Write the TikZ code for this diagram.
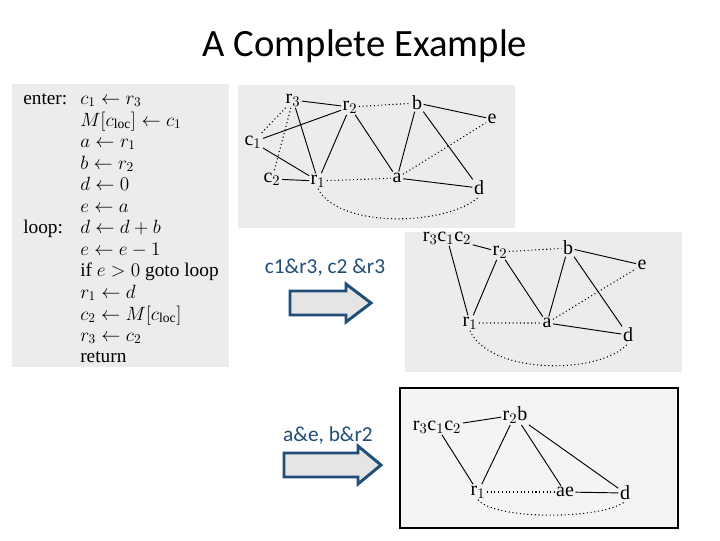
\documentclass[tikz,border=0pt]{standalone}
\usepackage{fontspec}
\usepackage{amsmath}
\setmainfont{Liberation Serif}
\newfontfamily\slidefont{Carlito}
\definecolor{slideblue}{RGB}{31,78,121}
\definecolor{scangray}{RGB}{236,236,236}
\tikzset{
  vx/.style={inner sep=1pt, font=\fontsize{15}{15}\selectfont},
  solid edge/.style={draw, line width=0.7pt},
  dot edge/.style={draw, dotted, line width=0.8pt},
  panel/.style={fill=scangray, draw=none},
  codeline/.style={anchor=base west, inner sep=0pt, font=\fontsize{14.5}{15}\selectfont},
  fatarrow/.style={draw=slideblue, fill=gray!20, line width=2.2pt, line join=miter},
  arrowlabel/.style={text=slideblue, font=\slidefont\fontsize{16}{16}\selectfont}
}
\begin{document}
\begin{tikzpicture}[x=0.75pt,y=-0.75pt]
    \useasboundingbox (0,0) rectangle (720,540);
    \fill[white] (0,0) rectangle (720,540);

    % title
    \node[font=\slidefont\fontsize{29}{29}\selectfont] (title) at (365,46) {A Complete Example};

    % code panel
    \fill[panel] (12,84) rectangle (229,367);
    \node[codeline] (enter) at (23,104) {enter:};
    \node[codeline] (loop) at (23,233) {loop:};
    \node[codeline] (l1) at (80,104) {$c_1 \leftarrow r_3$};
    \node[codeline] (l2) at (80,126) {$M[c_{\mathrm{loc}}] \leftarrow c_1$};
    \node[codeline] (l3) at (80,147) {$a \leftarrow r_1$};
    \node[codeline] (l4) at (80,169) {$b \leftarrow r_2$};
    \node[codeline] (l5) at (80,190) {$d \leftarrow 0$};
    \node[codeline] (l6) at (80,212) {$e \leftarrow a$};
    \node[codeline] (l7) at (80,233) {$d \leftarrow d+b$};
    \node[codeline] (l8) at (80,255) {$e \leftarrow e-1$};
    \node[codeline] (l9) at (80,276) {if $e>0$ goto loop};
    \node[codeline] (l10) at (80,298) {$r_1 \leftarrow d$};
    \node[codeline] (l11) at (80,320) {$c_2 \leftarrow M[c_{\mathrm{loc}}]$};
    \node[codeline] (l12) at (80,341) {$r_3 \leftarrow c_2$};
    \node[codeline] (l13) at (80,362) {return};

    % first graph
    \fill[panel] (238,85) rectangle (515,228);
    \node[vx] (ar3) at (293,100) {r$_3$};
    \node[vx] (ar2) at (350,107) {r$_2$};
    \node[vx] (ab) at (417,103) {b};
    \node[vx] (ae) at (492,119) {e};
    \node[vx] (ac1) at (253,142) {c$_1$};
    \node[vx] (ac2) at (272,179) {c$_2$};
    \node[vx] (ar1) at (318,181) {r$_1$};
    \node[vx] (aa) at (397,178) {a};
    \node[vx] (ad) at (479,188) {d};
    \path[solid edge] (ar3) -- (ar2) (ar3) -- (ar1) (ac1) -- (ar2) (ac1) -- (ar1)
      (ac2) -- (ar1) (ar2) -- (ar1) (ar2) -- (aa) (ab) -- (aa) (ab) -- (ad)
      (ab) -- (ae) (aa) -- (ad);
    \path[dot edge] (ar2) -- (ab) (ar3) -- (ac1) (ar3) -- (ac2) (ar1) -- (aa) (aa) -- (ae);
    \draw[dot edge] (ar1.south) .. controls (340,230) and (450,225) .. (ad.south);

    % second graph
    \fill[panel] (405,232) rectangle (682,372);
    \node[vx] (br3) at (447,238) {r$_3$c$_1$c$_2$};
    \node[vx] (br2) at (500,252) {r$_2$};
    \node[vx] (bb) at (568,248) {b};
    \node[vx] (be) at (642,265) {e};
    \node[vx] (br1) at (470,323) {r$_1$};
    \node[vx] (ba) at (547,323) {a};
    \node[vx] (bd) at (628,335) {d};
    \path[solid edge] (br3) -- (br2) (br3) -- (br1) (br2) -- (br1) (br2) -- (ba)
      (bb) -- (ba) (bb) -- (bd) (bb) -- (be) (ba) -- (bd);
    \path[dot edge] (br2) -- (bb) (ba) -- (be) (br1) -- (ba);
    \draw[dot edge] (br1.south) .. controls (490,375) and (600,375) .. (bd.south);

    % third graph
    \fill[scangray!60] (400,388) rectangle (678,528);
    \draw[line width=0.8pt] (400,388) rectangle (678,528);
    \node[vx] (cr3) at (437,427) {r$_3$c$_1$c$_2$};
    \node[vx] (cr2) at (515,415) {r$_2$b};
    \node[vx] (cr1) at (478,492) {r$_1$};
    \node[vx] (cae) at (565,492) {ae};
    \node[vx] (cd) at (625,493) {d};
    \path[solid edge] (cr3) -- (cr2) (cr3) -- (cr1) (cr2) -- (cr1) (cr2) -- (cae)
      (cr2) -- (cd) (cae) -- (cd);
    \path[dot edge] (cr1) -- (cae);
    \draw[dot edge] (cr1.south) .. controls (495,520) and (600,520) .. (cd.south);

    % arrows
    \node[arrowlabel] (lab1) at (325,268) {c1\&r3, c2 \&r3};
    \draw[fatarrow] (290,291) -- (346,291) -- (346,284) -- (371,303) -- (346,322)
      -- (346,315) -- (290,315) -- cycle;
    \node[arrowlabel] (lab2) at (328,435) {a\&e, b\&r2};
    \draw[fatarrow] (284,453) -- (358,453) -- (358,446) -- (381,465) -- (358,484)
      -- (358,477) -- (284,477) -- cycle;
\end{tikzpicture}
\end{document}
